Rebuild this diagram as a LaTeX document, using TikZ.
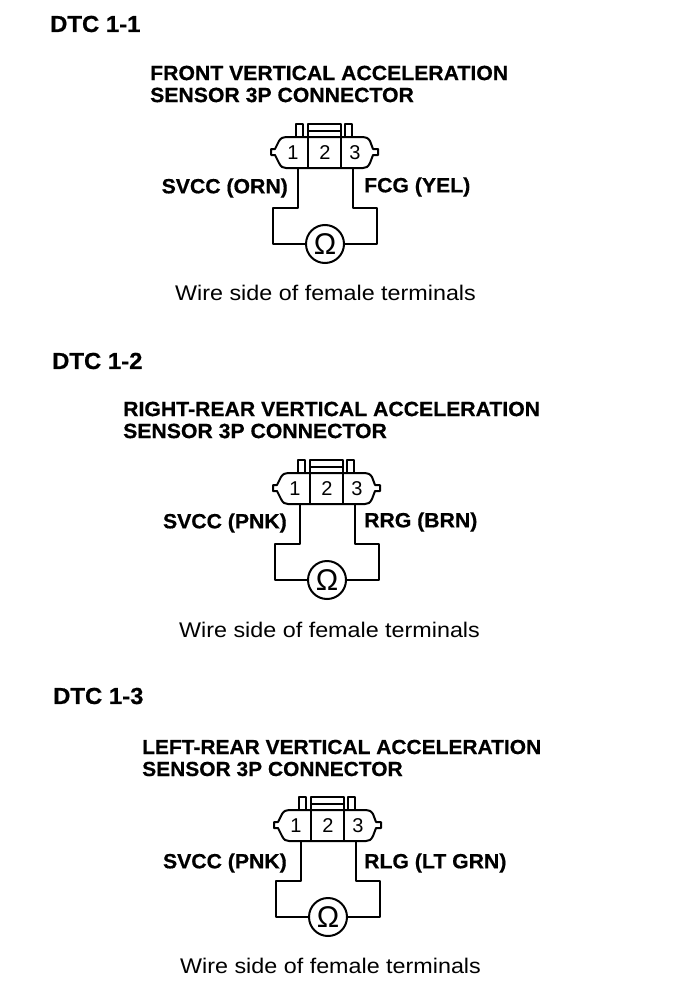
\documentclass[tikz,border=0pt]{standalone}
\usepackage{fontspec}
\setmainfont{Liberation Sans}
\newfontfamily\capfont[FakeStretch=1.1]{Liberation Sans}
\newfontfamily\boldwide[FakeStretch=1.03,FakeBold=0.6]{Liberation Sans Bold}
\tikzset{
  x=1pt,y=-1pt,
  wire/.style={line width=2pt,line join=round},
  head/.style={font=\boldwide\fontsize{20.6}{22}\selectfont,anchor=west,inner sep=0pt},
  headc/.style={font=\boldwide\fontsize{20.35}{22}\selectfont,anchor=west,inner sep=0pt},
  dtc/.style={font=\boldwide\fontsize{23.2}{24}\selectfont,anchor=west,inner sep=0pt},
  lab/.style={font=\boldwide\fontsize{20.6}{22}\selectfont,inner sep=0pt},
  captext/.style={font=\capfont\fontsize{21.2}{22}\selectfont,inner sep=0pt,anchor=west},
  num/.style={font=\fontsize{20}{22}\selectfont,inner sep=0pt},
  meter/.style={circle,draw,line width=2pt,minimum size=38pt,inner sep=0pt,font=\fontsize{30}{30}\selectfont}
}
\newcommand{\block}[4]{%
 \begin{scope}[shift={(#2,#3)}]
  #4
  \draw[wire] (296,137) -- (296,124) -- (303,124) -- (303,137);
  \draw[wire] (345,137) -- (345,124) -- (352,124) -- (352,137);
  \draw[wire] (308,137) -- (308,124) -- (341,124) -- (341,137);
  \draw[wire] (308,131) -- (341,131);
  \draw[wire,fill=white] (275,149) -- (279,141) .. controls (281,138) and (283,137) .. (286,137) -- (363,137) .. controls (366,137) and (368,138) .. (370,141) -- (373,149) -- (378,149) -- (378,155) -- (373,155) -- (370,163) .. controls (368,167) and (366,168) .. (363,168) -- (286,168) .. controls (283,168) and (281,167) .. (279,163) -- (275,155) -- (271,155) -- (271,149) -- cycle;
  \draw[wire] (308,137) -- (308,168);
  \draw[wire] (341,137) -- (341,168);
  \node[num] (#1n1) at (293,153) {1};
  \node[num] (#1n2) at (325,153) {2};
  \node[num] (#1n3) at (355,153) {3};
  \coordinate (#1p1) at (298,168);
  \coordinate (#1p3) at (353,168);
  \node[meter] (#1m) at (325,244) {Ω};
  \draw[wire] (#1p1) -- (298,208) -- (273,208) -- (273,244) -- (#1m.west);
  \draw[wire] (#1p3) -- (353,208) -- (377,208) -- (377,244) -- (#1m.east);
 \end{scope}
}
\begin{document}
\begin{tikzpicture}
\useasboundingbox (0,0) rectangle (688,990);
\fill[white] (0,0) rectangle (688,990);
\block{a}{0}{0}{
  \node[dtc] (ad) at (50,24) {DTC 1-1};
  \node[head] (ah1) at (150,73) {FRONT VERTICAL ACCELERATION};
  \node[head] (ah2) at (150,95) {SENSOR 3P CONNECTOR};
  \node[lab,anchor=east] (al) at (288,188) {SVCC (ORN)};
  \node[lab,anchor=west] (ar) at (364,187) {FCG (YEL)};
  \node[captext] (ac) at (175,293) {Wire side of female terminals};
}
\block{b}{2}{336}{
  \node[dtc] (bd) at (50,25) {DTC 1-2};
  \node[head] (bh1) at (121,73) {RIGHT-REAR VERTICAL ACCELERATION};
  \node[head] (bh2) at (121,95) {SENSOR 3P CONNECTOR};
  \node[lab,anchor=east] (bl) at (285,187) {SVCC (PNK)};
  \node[lab,anchor=west] (br) at (362,186) {RRG (BRN)};
  \node[captext] (bc) at (177,294) {Wire side of female terminals};
}
\block{c}{3}{673}{
  \node[dtc] (cd) at (50,23) {DTC 1-3};
  \node[headc] (ch1) at (139,74) {LEFT-REAR VERTICAL ACCELERATION};
  \node[headc] (ch2) at (139,96) {SENSOR 3P CONNECTOR};
  \node[lab,anchor=east] (cl) at (284,190) {SVCC (PNK)};
  \node[lab,anchor=west] (cr) at (361,190) {RLG (LT GRN)};
  \node[captext] (cc) at (177,293) {Wire side of female terminals};
}
\end{tikzpicture}
\end{document}
